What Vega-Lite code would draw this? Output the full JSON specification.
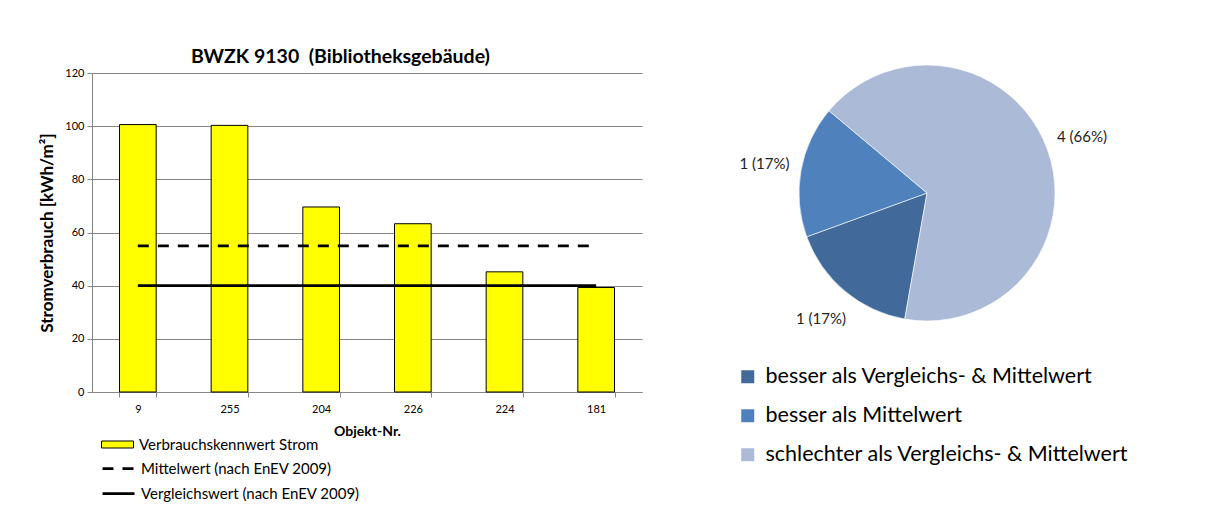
{
  "$schema": "https://vega.github.io/schema/vega-lite/v6.json",
  "background": "white",
  "padding": {"left": 38, "top": 46, "right": 5, "bottom": 5},
  "spacing": 20,
  "config": {
    "font": "Lato",
    "view": {"stroke": null},
    "axis": {
      "labelFont": "Lato",
      "titleFont": "Lato",
      "labelColor": "#000000",
      "titleColor": "#000000",
      "domainColor": "#868686",
      "tickColor": "#868686",
      "gridColor": "#868686",
      "labelFontSize": 11,
      "titleFontWeight": "bold"
    },
    "legend": {"labelFont": "Lato", "labelColor": "#000000", "labelLimit": 0}
  },
  "datasets": {
    "verbrauch": [
      {"objekt": "9", "wert": 100.6, "serie": "Verbrauchskennwert Strom"},
      {"objekt": "255", "wert": 100.3, "serie": "Verbrauchskennwert Strom"},
      {"objekt": "204", "wert": 69.6, "serie": "Verbrauchskennwert Strom"},
      {"objekt": "226", "wert": 63.3, "serie": "Verbrauchskennwert Strom"},
      {"objekt": "224", "wert": 45.2, "serie": "Verbrauchskennwert Strom"},
      {"objekt": "181", "wert": 39.3, "serie": "Verbrauchskennwert Strom"}
    ],
    "linien": [
      {"objekt": "9", "wert": 55, "serie": "Mittelwert (nach EnEV 2009)"},
      {"objekt": "255", "wert": 55, "serie": "Mittelwert (nach EnEV 2009)"},
      {"objekt": "204", "wert": 55, "serie": "Mittelwert (nach EnEV 2009)"},
      {"objekt": "226", "wert": 55, "serie": "Mittelwert (nach EnEV 2009)"},
      {"objekt": "224", "wert": 55, "serie": "Mittelwert (nach EnEV 2009)"},
      {"objekt": "181", "wert": 55, "serie": "Mittelwert (nach EnEV 2009)"},
      {"objekt": "9", "wert": 40, "serie": "Vergleichswert (nach EnEV 2009)"},
      {"objekt": "255", "wert": 40, "serie": "Vergleichswert (nach EnEV 2009)"},
      {"objekt": "204", "wert": 40, "serie": "Vergleichswert (nach EnEV 2009)"},
      {"objekt": "226", "wert": 40, "serie": "Vergleichswert (nach EnEV 2009)"},
      {"objekt": "224", "wert": 40, "serie": "Vergleichswert (nach EnEV 2009)"},
      {"objekt": "181", "wert": 40, "serie": "Vergleichswert (nach EnEV 2009)"}
    ],
    "bewertung": [
      {"kategorie": "besser als Vergleichs- & Mittelwert", "anzahl": 1, "beschriftung": "1 (17%)", "reihenfolge": 1},
      {"kategorie": "besser als Mittelwert", "anzahl": 1, "beschriftung": "1 (17%)", "reihenfolge": 2},
      {"kategorie": "schlechter als Vergleichs- & Mittelwert", "anzahl": 4, "beschriftung": "4 (66%)", "reihenfolge": 3}
    ]
  },
  "hconcat": [
    {
      "width": 550,
      "height": 319,
      "title": {
        "text": "BWZK 9130\u00a0 (Bibliotheksgebäude)",
        "font": "Lato",
        "fontSize": 19.5,
        "fontWeight": "bold",
        "color": "#000000",
        "anchor": "middle",
        "frame": "bounds",
        "offset": 0
      },
      "layer": [
        {
          "data": {"name": "verbrauch"},
          "mark": {"type": "bar", "stroke": "#000000", "strokeWidth": 1},
          "encoding": {
            "x": {
              "field": "objekt",
              "type": "nominal",
              "sort": null,
              "title": "Objekt-Nr.",
              "scale": {"paddingInner": 0.6, "paddingOuter": 0.3},
              "axis": {"labelAngle": 0, "tickBand": "extent", "tickSize": 5, "labelPadding": 6, "titlePadding": 10, "titleFontSize": 14, "grid": false}
            },
            "y": {
              "field": "wert",
              "type": "quantitative",
              "title": "Stromverbrauch [kWh/m²]",
              "scale": {"domain": [0, 120], "nice": false},
              "axis": {"values": [0, 20, 40, 60, 80, 100, 120], "tickSize": 5, "labelPadding": 3, "titlePadding": 8, "titleFontSize": 17, "grid": true}
            },
            "fill": {
              "field": "serie",
              "type": "nominal",
              "scale": {"domain": ["Verbrauchskennwert Strom"], "range": ["#FFFF00"]},
              "legend": {
                "orient": "none",
                "legendX": 15,
                "legendY": 361,
                "title": null,
                "symbolType": "M-1.6,-0.35H1.6V0.35H-1.6Z",
                "symbolSize": 400,
                "symbolStrokeColor": "#000000",
                "symbolStrokeWidth": 1,
                "labelFontSize": 15,
                "labelOffset": 11
              }
            }
          }
        },
        {
          "data": {"name": "linien"},
          "mark": {"type": "line", "color": "#000000", "strokeWidth": 2.75},
          "encoding": {
            "x": {"field": "objekt", "type": "nominal", "sort": null},
            "y": {"field": "wert", "type": "quantitative"},
            "strokeDash": {
              "field": "serie",
              "type": "nominal",
              "scale": {
                "domain": ["Mittelwert (nach EnEV 2009)", "Vergleichswert (nach EnEV 2009)"],
                "range": [[11, 9], [1, 0]]
              },
              "legend": {
                "orient": "none",
                "legendX": 15,
                "legendY": 384,
                "title": null,
                "symbolType": "M-1.6,0H1.6",
                "symbolSize": 400,
                "symbolStrokeColor": "#000000",
                "symbolStrokeWidth": 2.75,
                "labelFontSize": 15,
                "labelOffset": 11,
                "rowPadding": 5
              }
            }
          }
        }
      ]
    },
    {
      "width": 530,
      "height": 240,
      "data": {"name": "bewertung"},
      "encoding": {
        "theta": {"field": "anzahl", "type": "quantitative", "stack": true, "scale": {"range": [3.3161, 9.5993]}},
        "order": {"field": "reihenfolge", "type": "quantitative"}
      },
      "layer": [
        {
          "mark": {"type": "arc", "outerRadius": 128, "stroke": "#ffffff", "strokeWidth": 0.6},
          "encoding": {
            "color": {
              "field": "kategorie",
              "type": "nominal",
              "sort": null,
              "scale": {
                "domain": ["besser als Vergleichs- & Mittelwert", "besser als Mittelwert", "schlechter als Vergleichs- & Mittelwert"],
                "range": ["#416A9B", "#4F81BD", "#AABAD7"]
              },
              "legend": {
                "orient": "none",
                "legendX": 645,
                "legendY": 293,
                "title": null,
                "symbolType": "square",
                "symbolSize": 169,
                "symbolStrokeWidth": 0,
                "labelFontSize": 21.5,
                "labelOffset": 7,
                "rowPadding": 16
              }
            }
          }
        },
        {
          "mark": {"type": "text", "radius": 165, "fontSize": 15, "font": "Lato", "color": "#222222"},
          "encoding": {
            "text": {"field": "beschriftung", "type": "nominal"}
          }
        }
      ]
    }
  ]
}
